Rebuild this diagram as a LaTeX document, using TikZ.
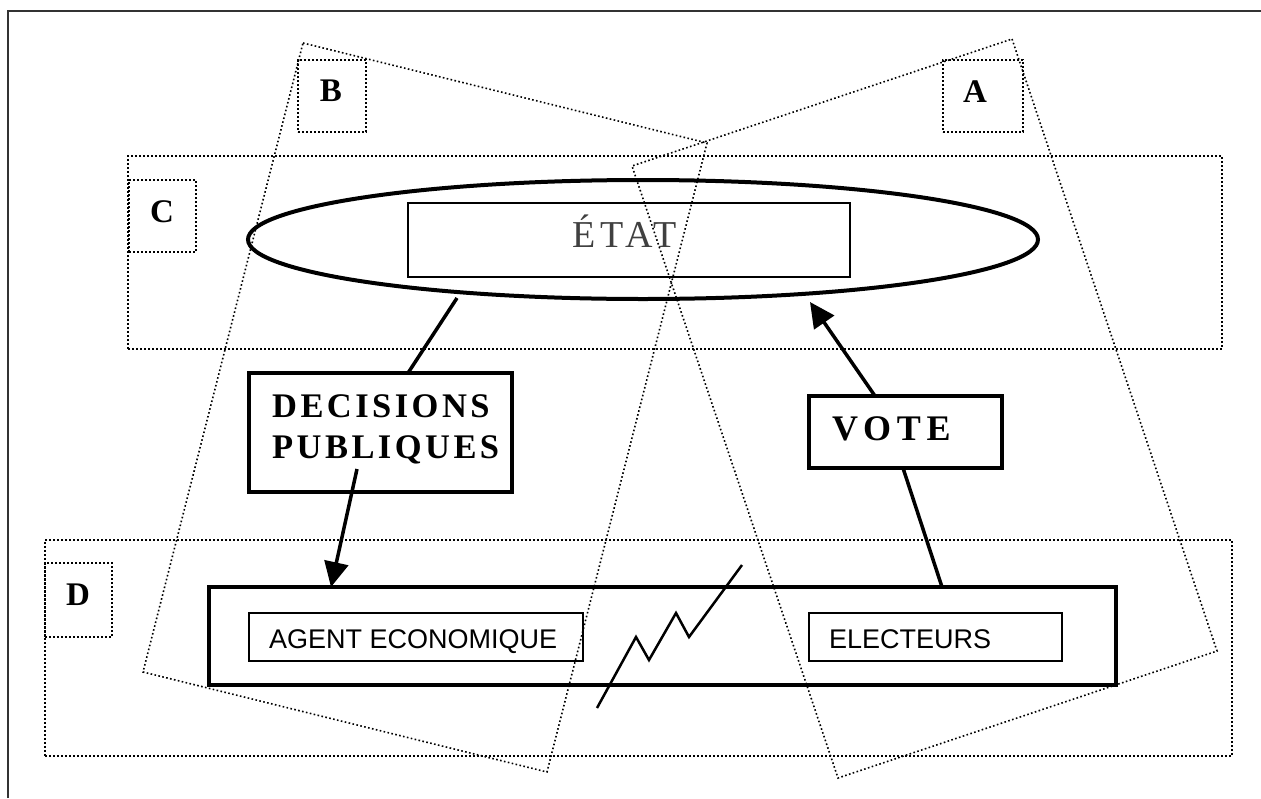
\documentclass[tikz,border=0pt]{standalone}
\usepackage{fontspec}
\setmainfont{Liberation Serif}
\newfontfamily\capsfont[LetterSpace=16]{Liberation Serif}
\newfontfamily\deccapsfont[LetterSpace=10]{Liberation Serif}
\newfontfamily\etatfont[LetterSpace=13]{Liberation Serif}
\newfontfamily\plainsans{Liberation Sans}
\usetikzlibrary{shapes.geometric,arrows.meta,fit}
\tikzset{
  dotline/.style={line width=1.6pt, dash pattern=on 1.6pt off 2.4pt},
  dotbox/.style={draw, dotline, rectangle, inner sep=0pt},
  thinbox/.style={draw, line width=2pt, rectangle, inner sep=0pt},
  thickbox/.style={draw, line width=4pt, rectangle, inner sep=0pt},
  bigbox/.style={draw, line width=4.5pt, rectangle, inner sep=0pt},
  conn/.style={line width=3.5pt},
  arr/.style={conn, -{Triangle[length=25pt,width=24pt]}},
  letter/.style={font=\fontsize{33}{38}\selectfont\bfseries, inner sep=0pt, anchor=base},
  capstext/.style={font=\capsfont\bfseries\fontsize{36}{42}\selectfont, inner sep=0pt, anchor=base west},
  dectext/.style={font=\deccapsfont\bfseries\fontsize{34.5}{42}\selectfont, inner sep=0pt, anchor=base west},
  sanstext/.style={font=\plainsans\fontsize{27}{32}\selectfont, inner sep=0pt, anchor=base west},
  frameline/.style={line width=2.5pt, black!80},
}
\begin{document}
\begin{tikzpicture}[x=1pt,y=-1pt]
\useasboundingbox (0,0) rectangle (1261,798);
% outer frame
\draw[frameline] (8,798) -- (8,11) -- (1261,11);
% rotated dotted regions A and B
\draw[dotline] (303,43) -- (707,143) -- (547,772) -- (143,672) -- cycle;
\draw[dotline] (1012,39) -- (1217,651) -- (838,778) -- (632,166) -- cycle;
% dotted rectangles C and D
\node[dotbox, fit={(128,156) (1222,349)}] (Crect) {};
\node[dotbox, fit={(45,540) (1232,756)}] (Drect) {};
% small label boxes
\node[dotbox, fit={(298,60) (366,132)}] (Bbox) {};
\node[dotbox, fit={(943,60) (1023,132)}] (Abox) {};
\node[dotbox, fit={(129,180) (196,252)}] (Cbox) {};
\node[dotbox, fit={(45,563) (112,637)}] (Dbox) {};
\node[letter] (Blbl) at (331,101) {B};
\node[letter] (Albl) at (975,102) {A};
\node[letter] (Clbl) at (162,222) {C};
\node[letter] (Dlbl) at (78,605) {D};
% Etat
\node[ellipse, draw, line width=4pt, inner sep=0pt, minimum width=790pt, minimum height=119pt] (ell) at (643,239.5) {};
\node[thinbox, fit={(408,203) (850,277)}] (etatbox) {};
\node[font=\etatfont\fontsize{38}{44}\selectfont, text=black!75, inner sep=0pt, anchor=base west] (etat) at (572,247) {ÉTAT};
% decisions publiques
\node[thickbox, fit={(249,373) (512,492)}] (dec) {};
\node[dectext] (dec1) at (272,417) {DECISIONS};
\node[dectext] (dec2) at (272,458) {PUBLIQUES};
% vote
\node[thickbox, fit={(809,396) (1002,468)}] (vote) {};
\node[capstext] (votetxt) at (832,440) {VOTE};
% bottom group
\node[bigbox, fit={(209,587) (1116,685)}] (group) {};
\node[thinbox, fit={(249,613) (583,661)}] (agent) {};
\node[sanstext] (agenttxt) at (269,648) {AGENT ECONOMIQUE};
\node[thinbox, fit={(809,613) (1062,661)}] (elect) {};
\node[sanstext] (electtxt) at (829,648) {ELECTEURS};
% connectors
\coordinate (e1) at (457,298);
\coordinate (d1) at (408,373);
\coordinate (d2) at (357,469);
\coordinate (g1) at (331,587);
\coordinate (v1) at (875,396);
\coordinate (e2) at (810,302);
\coordinate (v2) at (903,468);
\coordinate (g2) at (942,587);
\draw[conn] (e1) -- (d1);
\draw[arr] (d2) -- (g1);
\draw[arr] (v1) -- (e2);
\draw[conn] (v2) -- (g2);
% zigzag
\draw[line width=2.5pt, line join=miter] (597,708) -- (636,637) -- (649,660) -- (676,613) -- (689,637) -- (742,565);
\end{tikzpicture}
\end{document}
